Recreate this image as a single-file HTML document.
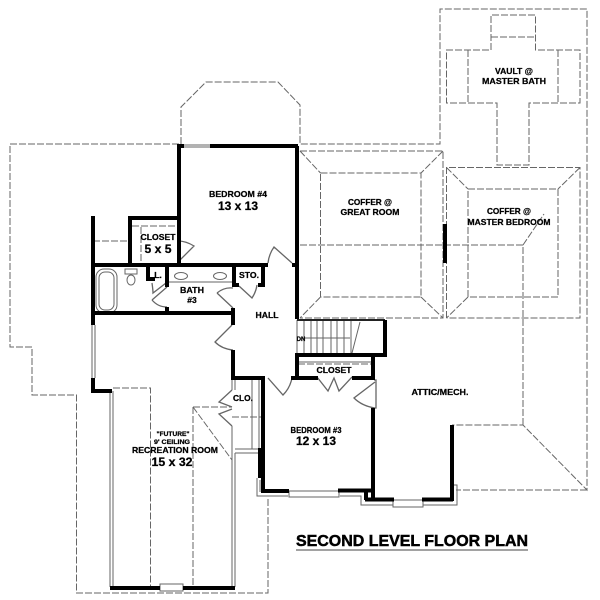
<!DOCTYPE html>
<html><head><meta charset="utf-8"><style>
html,body{margin:0;padding:0;background:#fff;width:600px;height:600px;overflow:hidden}
svg{display:block}
text{font-family:"Liberation Sans",sans-serif;font-weight:bold;fill:#000;text-anchor:middle;stroke:#000;stroke-width:.25}
.d{fill:none;stroke:#666;stroke-width:1;stroke-dasharray:7 2}
.t{fill:none;stroke:#000;stroke-width:4}
.g{fill:none;stroke:#666;stroke-width:1}
.dr{fill:none;stroke:#666;stroke-width:1.3}
.s{font-size:8.5px}.b{font-size:11.5px}
</style></head><body>
<svg width="600" height="600" viewBox="0 0 600 600" xmlns="http://www.w3.org/2000/svg">
<!-- roof outline -->
<path class="d" d="M179 144H10V347H32V395H76.5V593H268V497"/>
<path class="d" d="M181 144V107L206 82H278L300 105V144H440V9H587V490L523 425H452M587 490H456"/>
<path class="d" d="M300 245H523V425M523 245L544 214"/>
<!-- vault -->
<path class="d" d="M491 50V15H535.5V50H580V103H529V165H497V103H446.5V50H491M491 37H535.5M468 50V103M558 50V103"/>
<!-- coffers -->
<path class="d" d="M300 151H443V318H300M320.5 173H421V297H320.5ZM300 151L320.5 173M443 151L421 173M421 297L443 318M320.5 297L300 318"/>
<path class="d" d="M446.5 318V167.5H580V318H446.5M468 189H558V297H468ZM446.5 167.5L468 189M580 167.5L558 189M468 297L446.5 318"/>
<rect x="443" y="224" width="4" height="39" fill="#000"/>
<!-- thin lines / doubles -->
<path class="g" d="M110 391V587M113 391V587M232 378V390M235 378V390M232 426V587M235 453V587M235 449H258M235 453H258M252 378V449M259 378V449"/>
<path class="d" d="M113 388H150.5V587M193 407V587M193 407H232M193 407L232 460M232 417H261"/>
<path class="d" d="M132 226H177M141 227V265M93 241H130"/>
<path class="g" d="M168 282H232M298 362H372"/>
<path class="d" d="M298 364H372"/>
<path class="g" d="M257 478V496H288M260 480V492M289 491H339V497H289ZM340 496H361V505H393M393 500H423V507H393ZM423 505H457V485H452"/>
<path class="g" d="M184 145H210M184 147H210M92 325V378M95 325V378M160 584H183V591H160Z"/>
<!-- tub & fixtures -->
<rect x="96" y="269" width="21" height="44" rx="8" class="g"/>
<rect x="99" y="272" width="15" height="38" rx="6" class="g"/>
<rect x="125" y="269" width="12" height="5" class="g"/>
<ellipse cx="131" cy="280" rx="4" ry="5" class="g"/>
<ellipse cx="181" cy="276" rx="6.5" ry="3.5" class="g"/>
<ellipse cx="220" cy="276" rx="6.5" ry="3.5" class="g"/>
<!-- stairs -->
<path class="g" d="M297 320V353M304 321V354M311 321V354M317 321V354M323 321V354M331 321V354M337 321V354M344 321V354M351 321V354M305 338H350M360 322L352 353"/>
<path d="M297 320H385" stroke="#222" stroke-width="2" fill="none"/>
<!-- doors -->
<path class="dr" d="M178 262L194 246Q186 241 178 241M268 263Q269 254 274 247L292 263M152 283Q153 290 153 293L166 283M152 300L167 287M152 300Q158 307 167 307M217 293L233 308M217 293Q224 287 233 288M239 286L252 298Q256 292 257 285M232 325L215 342Q222 349 233 350M268 378L283 395Q290 388 292 378M317 377L328 391L334 378L339 391L352 377M375 382L354 398Q362 406 375 408M374 380H376V408H374M232 390L219 402L232 407M232 409L219 414L232 426"/>
<!-- walls -->
<path class="t" d="M178 146H184M210 146H298M179 144V266M297 146V265M93 216V325M93 378V391H112M93 265H268M130 265V218H179M93 313H235M233 308V325M233 350V378H265"/>
<path class="t" d="M148 266V279H155M167 266V287M167 307V313M234 266V285H239M263 266V285H258M292 265H298M297 265V319M297 353V378M295 355H387M385 320V357M373 355V380M373 408V501M263 378V491H289M338 490.5H373M291 378H318M352 378H373M366 492V500M365 499.500H394M422 499.500H453M452 425V501"/>
<rect x="258" y="448" width="4" height="30" fill="#000"/>
<path d="M110 588H160M183 588H235" stroke="#000" stroke-width="4" fill="none"/>
<!-- labels -->
<text class="s" x="238" y="197" textLength="58" lengthAdjust="spacingAndGlyphs">BEDROOM #4</text>
<text class="b" x="238" y="210" textLength="40" lengthAdjust="spacingAndGlyphs">13 x 13</text>
<text class="s" x="158" y="240" textLength="35" lengthAdjust="spacingAndGlyphs">CLOSET</text>
<text class="b" x="158" y="253" textLength="27" lengthAdjust="spacingAndGlyphs">5 x 5</text>
<text class="s" x="158" y="278">L.</text>
<text class="s" x="249" y="278" textLength="20" lengthAdjust="spacingAndGlyphs">STO.</text>
<text class="s" x="192" y="293" textLength="24" lengthAdjust="spacingAndGlyphs">BATH</text>
<text class="s" x="192" y="303">#3</text>
<text class="s" x="267" y="318" textLength="23" lengthAdjust="spacingAndGlyphs">HALL</text>
<text x="301" y="341" style="font-size:6px">DN</text>
<text class="s" x="334" y="373" textLength="35" lengthAdjust="spacingAndGlyphs">CLOSET</text>
<text class="s" x="243" y="401" textLength="20" lengthAdjust="spacingAndGlyphs">CLO.</text>
<text class="s" x="316" y="433" textLength="51" lengthAdjust="spacingAndGlyphs">BEDROOM #3</text>
<text class="b" x="316" y="445" textLength="40" lengthAdjust="spacingAndGlyphs">12 x 13</text>
<text class="s" x="440" y="395" textLength="57" lengthAdjust="spacingAndGlyphs">ATTIC/MECH.</text>
<text x="173" y="436" style="font-size:6.5px" textLength="33" lengthAdjust="spacingAndGlyphs">"FUTURE"</text>
<text x="172" y="444" style="font-size:6.5px" textLength="36" lengthAdjust="spacingAndGlyphs">9' CEILING</text>
<text class="s" x="175" y="453" textLength="86" lengthAdjust="spacingAndGlyphs">RECREATION ROOM</text>
<text class="b" x="172" y="466" textLength="41" lengthAdjust="spacingAndGlyphs">15 x 32</text>
<text class="s" x="370" y="205" textLength="44" lengthAdjust="spacingAndGlyphs">COFFER @</text>
<text class="s" x="370" y="215" textLength="59" lengthAdjust="spacingAndGlyphs">GREAT ROOM</text>
<text class="s" x="509" y="214" textLength="44" lengthAdjust="spacingAndGlyphs">COFFER @</text>
<text class="s" x="509" y="225" textLength="83" lengthAdjust="spacingAndGlyphs">MASTER BEDROOM</text>
<text class="s" x="514" y="74" textLength="38" lengthAdjust="spacingAndGlyphs">VAULT @</text>
<text class="s" x="514" y="84" textLength="64" lengthAdjust="spacingAndGlyphs">MASTER BATH</text>
<text x="412" y="546" style="font-size:16px;stroke-width:.5" textLength="232" lengthAdjust="spacingAndGlyphs">SECOND LEVEL FLOOR PLAN</text>
<path d="M296 550H528" stroke="#444" stroke-width="1"/>
</svg>
</body></html>
